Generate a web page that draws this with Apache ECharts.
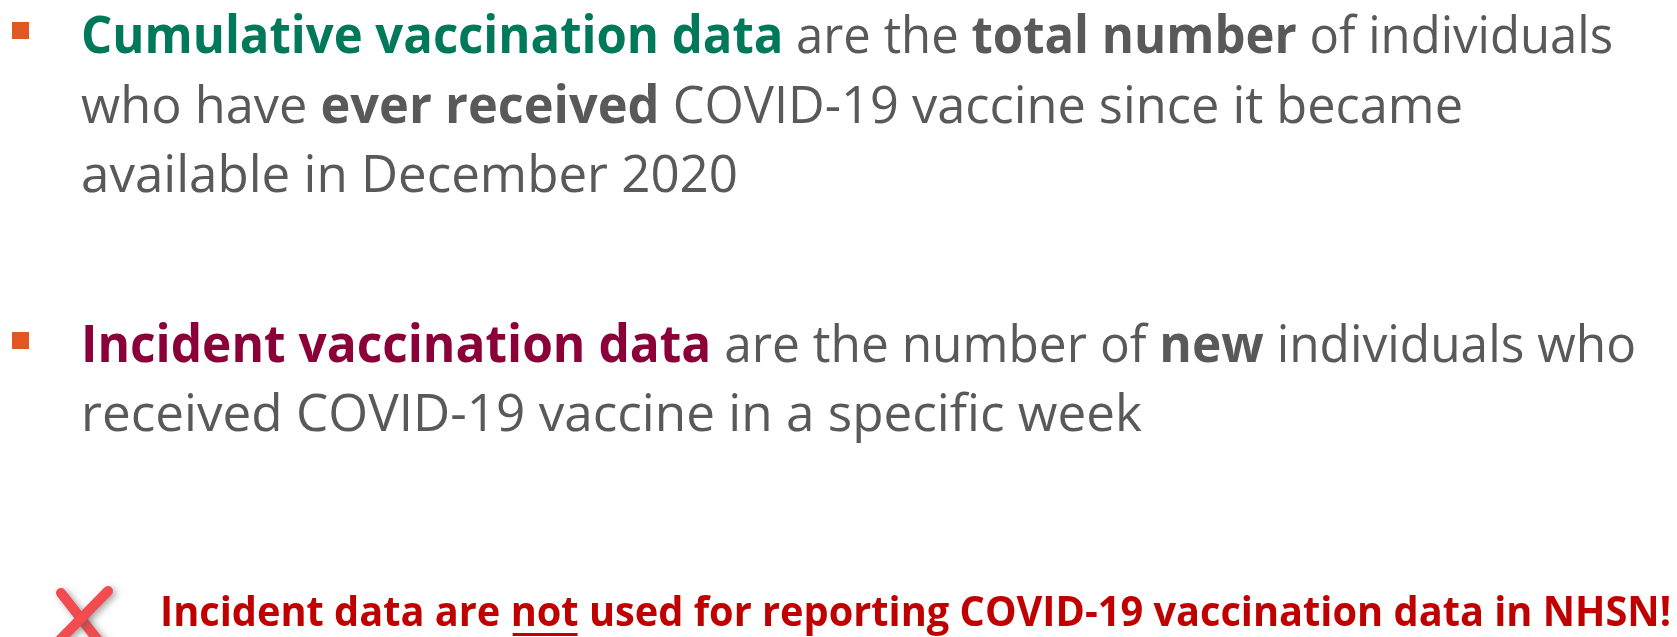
<!DOCTYPE html>
<html>
<head>
<meta charset="utf-8">
<script src="https://cdn.jsdelivr.net/npm/echarts@6/dist/echarts.min.js"></script>
<style>
  html, body { margin: 0; padding: 0; background: #ffffff; }
  #main { width: 1677px; height: 637px; }
</style>
</head>
<body>
<div id="main"></div>
<script>
// text content of the slide, one array per block; each entry is [style, text]
var cumulativeLines = [
    [['green', 'Cumulative vaccination data'], ['plain', ' are the '], ['bold', 'total number'], ['plain', ' of individuals']],
    [['plain', 'who have '], ['bold', 'ever received'], ['plain', ' COVID-19 vaccine since it became']],
    [['plain', 'available in December 2020']]
];
var incidentLines = [
    [['maroon', 'Incident vaccination data'], ['plain', ' are the number of '], ['bold', 'new'], ['plain', ' individuals who']],
    [['plain', 'received COVID-19 vaccine in a specific week']]
];
var warningLine = [['red', 'Incident data are '], ['redU', 'not'], ['red', ' used for reporting COVID-19 vaccination data in NHSN!']];

// layout: left edge, baseline and right edge of each line
var lineLeft = 81;
var cumulativeBase = [55, 125, 194];
var cumulativeRight = [1613, 1463, 738];
var incidentBase = [364, 433];
var incidentRight = [1636, 1142];
var warningBase = 628, warningLeft = 160, warningRight = 1671;

var FONT = '"Open Sans", "Noto Sans", sans-serif';
var mainSize = 52, warnSize = 42;
var styles = {
    plain:  { color: '#595959', weight: 'normal', size: mainSize },
    bold:   { color: '#595959', weight: 'bold',   size: mainSize },
    green:  { color: '#00795a', weight: 'bold',   size: mainSize },
    maroon: { color: '#8b0038', weight: 'bold',   size: mainSize },
    red:    { color: '#c00000', weight: 'bold',   size: warnSize },
    redU:   { color: '#c00000', weight: 'bold',   size: warnSize, underline: true }
};

var ctx = document.createElement('canvas').getContext('2d');
function fontOf(s) {
    return s.weight + ' ' + s.size + 'px ' + FONT;
}
function measure(seg) {
    ctx.font = fontOf(styles[seg[0]]);
    return ctx.measureText(seg[1]).width;
}

// lays one line out as text pieces squeezed to fit between left and right
function buildLine(segs, left, right, base) {
    var total = 0, widths = [];
    for (var i = 0; i < segs.length; i++) {
        widths.push(measure(segs[i]));
        total += widths[i];
    }
    var k = (right - left) / total;
    var out = [], x = left;
    for (var j = 0; j < segs.length; j++) {
        var s = styles[segs[j][0]];
        out.push({
            type: 'text',
            x: x,
            y: base,
            scaleX: k,
            style: {
                text: segs[j][1],
                font: fontOf(s),
                fill: s.color,
                textAlign: 'left',
                textVerticalAlign: 'middle',
                y: -s.size * 0.33
            }
        });
        if (s.underline) {
            out.push({
                type: 'rect',
                shape: { x: x + 2, y: base + 5, width: widths[j] * k - 3, height: 3 },
                style: { fill: s.color }
            });
        }
        x += widths[j] * k;
    }
    return out;
}

var elements = [];
// bullets
elements.push({ type: 'rect', shape: { x: 12, y: 22, width: 17, height: 17 }, style: { fill: '#e2561f' } });
elements.push({ type: 'rect', shape: { x: 12, y: 332, width: 17, height: 17 }, style: { fill: '#e2561f' } });

cumulativeLines.forEach(function (l, i) {
    elements = elements.concat(buildLine(l, lineLeft, cumulativeRight[i], cumulativeBase[i]));
});
incidentLines.forEach(function (l, i) {
    elements = elements.concat(buildLine(l, lineLeft, incidentRight[i], incidentBase[i]));
});
elements = elements.concat(buildLine(warningLine, warningLeft, warningRight, warningBase));

// red cross icon
var crossStyle = {
    stroke: '#f24b50',
    lineWidth: 10,
    lineCap: 'round',
    shadowBlur: 7,
    shadowColor: 'rgba(90,90,90,0.55)',
    shadowOffsetX: 3,
    shadowOffsetY: 2
};
elements.push({ type: 'line', shape: { x1: 61, y1: 593, x2: 104, y2: 648 }, style: crossStyle });
elements.push({ type: 'line', shape: { x1: 108, y1: 591, x2: 54, y2: 646 }, style: crossStyle });

var chart = echarts.init(document.getElementById('main'));
chart.setOption({
    backgroundColor: '#ffffff',
    animation: false,
    graphic: { elements: elements }
});
</script>
</body>
</html>
